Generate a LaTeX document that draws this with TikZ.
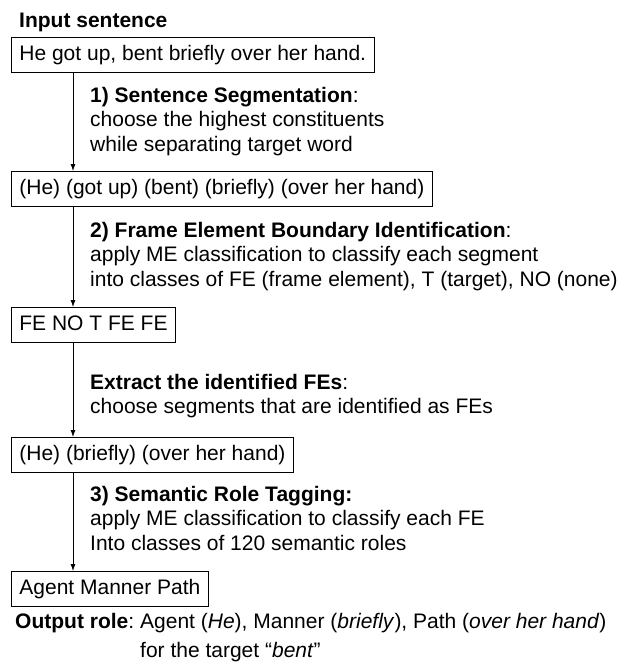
\documentclass[tikz,border=0pt]{standalone}
\usepackage{fontspec}
\setmainfont{Liberation Sans}
\usetikzlibrary{positioning, calc, arrows.meta}

\begin{document}
\begin{tikzpicture}[x=1pt, y=-1pt, every node/.style={font=\fontsize{21}{24.5}\selectfont, text=black}]
	\tikzstyle{stagebox}=[draw=black, line width=0.8pt, inner xsep=8pt, inner ysep=7pt, text height=16pt, text depth=5pt, anchor=north west]
	\tikzstyle{steptext}=[align=left, inner sep=0pt, anchor=north west]
	\tikzstyle{flow}=[draw=black, line width=0.8pt, -{Latex[length=7pt, width=5pt]}]

	\useasboundingbox (0,0) rectangle (624,665);

	\node [anchor=base west, inner sep=0pt] (title) at (19,27) {\textbf{Input sentence}};

	%% the stage boxes
	\node [stagebox] (sent) at (11,37) {He got up, bent briefly over her hand.};
	\node [stagebox] (segs) at (11,171) {(He) (got up) (bent) (briefly) (over her hand)};
	\node [stagebox] (tags) at (11,307) {FE NO T FE FE};
	\node [stagebox] (fes) at (11,437) {(He) (briefly) (over her hand)};
	\node [stagebox] (roles) at (11,571) {Agent Manner Path};

	%% the step texts
	\node [steptext] (s1) at (90,87) {\textbf{1) Sentence Segmentation}:\\choose the highest constituents\\while separating target word};
	\node [steptext] (s2) at (90,222) {\textbf{2) Frame Element Boundary Identification}:\\apply ME classification to classify each segment\\into classes of FE (frame element), T (target), NO (none)};
	\node [steptext] (s3) at (90,374) {\textbf{Extract the identified FEs}:\\choose segments that are identified as FEs};
	\node [steptext] (s4) at (90,486) {\textbf{3) Semantic Role Tagging:}\\apply ME classification to classify each FE\\Into classes of 120 semantic roles};

	%% arrows down the left side
	\draw [flow] ([xshift=62pt]sent.south west) -- ([xshift=62pt]segs.north west);
	\draw [flow] ([xshift=62pt]segs.south west) -- ([xshift=62pt]tags.north west);
	\draw [flow] ([xshift=62pt]tags.south west) -- ([xshift=62pt]fes.north west);
	\draw [flow] ([xshift=62pt]fes.south west) -- ([xshift=62pt]roles.north west);

	\node [anchor=base west, inner sep=0pt] (outrole) at (15,628) {\renewcommand{\arraystretch}{1.22}\begin{tabular}[t]{@{}l@{}l@{}}
		\textbf{Output role}:\kern6pt & Agent (\textit{He}), Manner (\textit{briefly}), Path (\textit{over her hand})\\
		& for the target “\textit{bent}”
	\end{tabular}};
\end{tikzpicture}
\end{document}
